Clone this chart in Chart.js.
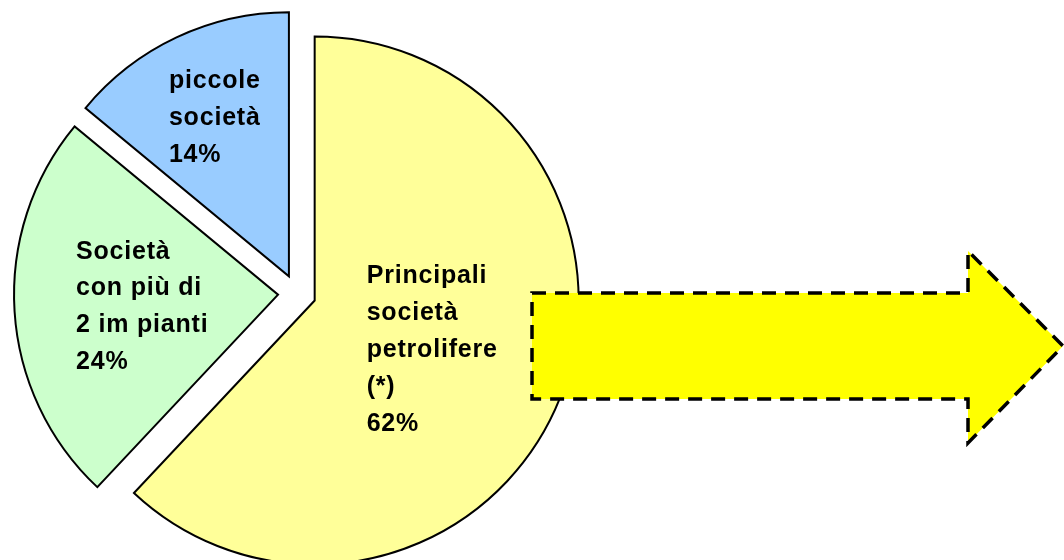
<!DOCTYPE html>
<html>
<head>
<meta charset="utf-8">
<script src="https://cdn.jsdelivr.net/npm/chart.js@4/dist/chart.umd.min.js"></script>
<style>
  html, body { margin: 0; padding: 0; background: #fff; }
  #wrap { width: 1064px; height: 560px; position: relative; }
</style>
</head>
<body>
<div id="wrap"><canvas id="torta" width="1064" height="560"></canvas></div>
<script>
const categorie = ['Principali società petrolifere (*)', 'Società con più di 2 impianti', 'piccole società'];
const quote = [62, 24, 14];
const colori = ['#FFFF99', '#CCFFCC', '#99CCFF'];
const etichette = [
  ['Principali', 'società', 'petrolifere', '(*)'],
  ['Società', 'con più di', '2 im pianti'],
  ['piccole', 'società']
];
// inizio del testo rispetto al vertice della fetta (x sinistra, prima linea di base)
const posEtichette = [[52, -17], [-202, -36], [-120, -188]];

const esplosione = 19;   // px di stacco di ogni fetta
const raggio = 264;

// chart.js sposta la fetta di offset/4, allarga il raggio e stringe l'angolo: qui si compensa
const raggioPlugin = {
  id: 'raggio',
  beforeDatasetsDraw(chart) {
    const meta = chart.getDatasetMeta(0);
    const R = meta.controller.outerRadius;
    meta.data.forEach((arc) => {
      const off = (arc.options.offset || 0) / 4;
      const fix = 1 - Math.sin(Math.min(Math.PI, arc.circumference || 0));
      const rOff = off * fix;
      arc.outerRadius = R - rOff;
      if (!arc._angoliBase) {
        arc._angoliBase = [arc.startAngle, arc.endAngle];
      }
      const da = (rOff / Math.PI) / R / 2;
      arc.startAngle = arc._angoliBase[0] - da;
      arc.endAngle = arc._angoliBase[1] + da;
    });
  }
};

const etichettePlugin = {
  id: 'etichette',
  afterDatasetsDraw(chart) {
    const ctx = chart.ctx;
    const meta = chart.getDatasetMeta(0);
    ctx.save();
    ctx.font = 'bold 25px "Liberation Sans", Arial, sans-serif';
    ctx.letterSpacing = '0.8px';
    ctx.fillStyle = '#000';
    ctx.textAlign = 'left';
    ctx.textBaseline = 'alphabetic';
    meta.data.forEach((arc, i) => {
      const off = (arc.options.offset || 0) / 4;
      const mid = (arc.startAngle + arc.endAngle) / 2;
      const ax = arc.x + Math.cos(mid) * off;
      const ay = arc.y + Math.sin(mid) * off;
      const righe = etichette[i].concat([quote[i] + '%']);
      righe.forEach((r, k) => {
        ctx.fillText(r, ax + posEtichette[i][0], ay + posEtichette[i][1] + k * 36.8);
      });
    });
    ctx.restore();
  }
};

// freccia gialla tratteggiata a destra
const frecciaPlugin = {
  id: 'freccia',
  afterDraw(chart) {
    const ctx = chart.ctx;
    ctx.save();
    ctx.beginPath();
    ctx.moveTo(532, 293);
    ctx.lineTo(968, 293);
    ctx.lineTo(968, 251);
    ctx.lineTo(1063, 346);
    ctx.lineTo(968, 443);
    ctx.lineTo(968, 399);
    ctx.lineTo(532, 399);
    ctx.closePath();
    ctx.fillStyle = '#FFFF00';
    ctx.fill();
    ctx.setLineDash([14, 9]);
    ctx.lineWidth = 3.5;
    ctx.strokeStyle = '#000';
    ctx.stroke();
    ctx.restore();
  }
};

new Chart(document.getElementById('torta'), {
  type: 'pie',
  data: {
    labels: categorie,
    datasets: [{
      data: quote,
      backgroundColor: colori,
      borderColor: '#000',
      borderWidth: 2,
      borderJoinStyle: 'miter',
      offset: esplosione * 4,
      clip: false
    }]
  },
  options: {
    responsive: false,
    animation: false,
    radius: raggio,
    layout: { padding: { left: 0, right: 470, top: 27, bottom: 0 } },
    plugins: {
      legend: { display: false },
      tooltip: { enabled: false }
    }
  },
  plugins: [raggioPlugin, etichettePlugin, frecciaPlugin]
});
</script>
</body>
</html>
